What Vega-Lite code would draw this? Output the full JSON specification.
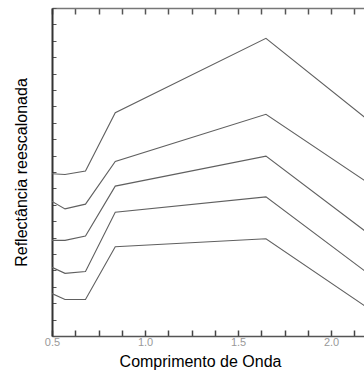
{
  "$schema": "https://vega.github.io/schema/vega-lite/v6.json",
  "width": 312,
  "height": 328,
  "autosize": "none",
  "padding": {"left": 52, "top": 8, "right": 0, "bottom": 47},
  "background": "white",
  "config": {"view": {"stroke": null}, "font": "Liberation Sans"},
  "data": {"values": [
    {"s": 1, "w": 0.5, "r": 9.89}, {"s": 1, "w": 0.57, "r": 9.85}, {"s": 1, "w": 0.68, "r": 10.06}, {"s": 1, "w": 0.84, "r": 13.62}, {"s": 1, "w": 1.65, "r": 18.15}, {"s": 1, "w": 2.22, "r": 12.98},
    {"s": 2, "w": 0.5, "r": 8.21}, {"s": 2, "w": 0.57, "r": 7.75}, {"s": 2, "w": 0.68, "r": 8.04}, {"s": 2, "w": 0.84, "r": 10.64}, {"s": 2, "w": 1.65, "r": 13.52}, {"s": 2, "w": 2.22, "r": 9.18},
    {"s": 3, "w": 0.5, "r": 5.83}, {"s": 3, "w": 0.57, "r": 5.83}, {"s": 3, "w": 0.68, "r": 6.09}, {"s": 3, "w": 0.84, "r": 9.14}, {"s": 3, "w": 1.65, "r": 10.97}, {"s": 3, "w": 2.22, "r": 6.08},
    {"s": 4, "w": 0.5, "r": 4.19}, {"s": 4, "w": 0.57, "r": 3.82}, {"s": 4, "w": 0.68, "r": 3.93}, {"s": 4, "w": 0.84, "r": 7.55}, {"s": 4, "w": 1.65, "r": 8.48}, {"s": 4, "w": 2.22, "r": 3.64},
    {"s": 5, "w": 0.5, "r": 2.59}, {"s": 5, "w": 0.57, "r": 2.23}, {"s": 5, "w": 0.68, "r": 2.23}, {"s": 5, "w": 0.84, "r": 5.44}, {"s": 5, "w": 1.65, "r": 5.93}, {"s": 5, "w": 2.22, "r": 1.54}
  ]},
  "layer": [
    {
      "mark": {"type": "line", "clip": true, "color": "#606060", "strokeWidth": 1.1},
      "encoding": {
        "x": {
          "field": "w", "type": "quantitative",
          "scale": {"domain": [0.5, 2.177], "nice": false, "zero": false},
          "axis": {
            "orient": "bottom",
            "values": [0.5, 0.625, 0.75, 0.875, 1, 1.125, 1.25, 1.375, 1.5, 1.625, 1.75, 1.875, 2, 2.125],
            "labelExpr": "datum.value % 0.5 === 0 ? format(datum.value, '.1f') : ''",
            "grid": false, "ticks": true,
            "domainColor": "#555", "domainWidth": 1.5,
            "tickColor": "#444", "tickWidth": 1.5, "tickSize": -6,
            "labelColor": "#999", "labelFontSize": 11, "labelPadding": 6, "labelFlush": false,
            "title": "Comprimento de Onda",
            "titleFontSize": 16, "titleFontWeight": "normal", "titleColor": "#000",
            "titleX": 148, "titleY": 25, "titleBaseline": "middle", "titleAnchor": "middle", "titleAlign": "center"
          }
        },
        "y": {
          "field": "r", "type": "quantitative",
          "scale": {"domain": [0, 20], "nice": false, "zero": false},
          "axis": {
            "values": [0, 1, 2, 3, 4, 5, 6, 7, 8, 9, 10, 11, 12, 13, 14, 15, 16, 17, 18, 19, 20],
            "labels": false, "grid": false,
            "domainColor": "#333", "domainWidth": 2,
            "tickColor": "#555", "tickSize": -4, "tickWidth": 1,
            "title": "Reflectância reescalonada",
            "titleFontSize": 16, "titleFontWeight": "normal", "titleColor": "#000",
            "titleX": -31, "titleY": 164, "titleAngle": -90, "titleBaseline": "middle", "titleAlign": "center", "titleAnchor": "middle"
          }
        },
        "detail": {"field": "s"}
      }
    },
    {
      "mark": {"type": "line", "clip": true, "color": "#606060", "strokeOpacity": 0},
      "encoding": {
        "x": {
          "field": "w", "type": "quantitative",
          "scale": {"domain": [0.5, 2.177], "nice": false, "zero": false},
          "axis": {
            "orient": "top",
            "values": [0.5, 0.625, 0.75, 0.875, 1, 1.125, 1.25, 1.375, 1.5, 1.625, 1.75, 1.875, 2, 2.125],
            "labels": true, "labelExpr": "''", "grid": false, "title": null, "ticks": true,
            "domainColor": "#777", "domainWidth": 1.5,
            "tickColor": "#555", "tickWidth": 1.5, "tickSize": -6
          }
        },
        "y": {"field": "r", "type": "quantitative", "scale": {"domain": [0, 20], "nice": false, "zero": false}, "axis": null},
        "detail": {"field": "s"}
      }
    }
  ],
  "resolve": {"scale": {"x": "independent"}, "axis": {"x": "independent", "y": "independent"}}
}
